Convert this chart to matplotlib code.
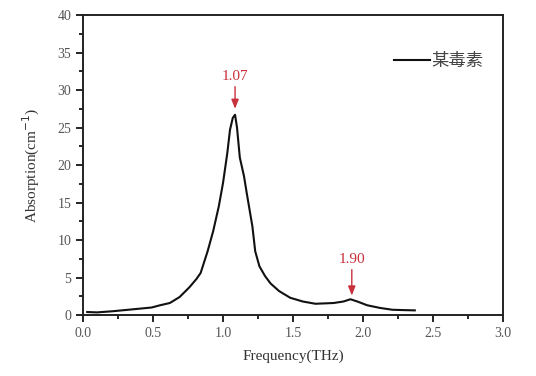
import matplotlib
matplotlib.use('Agg')
import matplotlib.pyplot as plt
from matplotlib.ticker import MultipleLocator

# 吸收谱数据
freq = [0.03, 0.10, 0.21, 0.35, 0.49, 0.55, 0.62, 0.69, 0.76, 0.81, 0.84, 0.89,
        0.93, 0.97, 1.00, 1.03, 1.05, 1.07, 1.086, 1.10, 1.12, 1.15, 1.17, 1.19,
        1.21, 1.23, 1.26, 1.30, 1.34, 1.40, 1.48, 1.57, 1.66, 1.79, 1.86, 1.91,
        1.96, 2.03, 2.12, 2.21, 2.30, 2.37]
absorb = [0.40, 0.35, 0.50, 0.75, 1.00, 1.30, 1.60, 2.40, 3.70, 4.80, 5.60, 8.50,
          11.2, 14.5, 17.6, 21.5, 24.7, 26.3, 26.7, 25.0, 21.0, 18.5, 16.2, 14.0,
          11.8, 8.5, 6.5, 5.2, 4.2, 3.2, 2.3, 1.8, 1.5, 1.6, 1.8, 2.1,
          1.8, 1.3, 0.95, 0.70, 0.65, 0.62]
peak_x = [1.086, 1.92]
peak_y = [27.5, 2.6]
peak_labels = ['1.07', '1.90']
series_name = '某毒素'

plt.rcParams['font.family'] = ['Liberation Serif', 'Noto Sans CJK SC']

fig = plt.figure(figsize=(5.36, 3.76), dpi=100)
ax = fig.add_axes([0.1549, 0.1622, 0.7835, 0.7979])

ax.plot(freq, absorb, color='#111111', lw=1.5, label=series_name)

# 峰位标注
red = '#c8303c'
offsets = [3.5, 4.0]
for px, py, lab, off in zip(peak_x, peak_y, peak_labels, offsets):
    ax.annotate(lab, xy=(px, py), xytext=(px, py + off), ha='center', va='bottom',
                color=red, fontsize=11,
                arrowprops=dict(arrowstyle='-|>,head_length=0.5,head_width=0.2',
                                color=red, lw=1, shrinkA=1, shrinkB=0))

ax.set_xlim(0, 3.0)
ax.set_ylim(0, 40)
ax.xaxis.set_major_locator(MultipleLocator(0.5))
ax.xaxis.set_minor_locator(MultipleLocator(0.25))
ax.yaxis.set_major_locator(MultipleLocator(5))
ax.yaxis.set_minor_locator(MultipleLocator(2.5))
ax.xaxis.set_major_formatter(matplotlib.ticker.FormatStrFormatter('%.1f'))

ax.tick_params(which='both', direction='out', top=False, right=False,
               labelsize=10, labelcolor='#555555', width=1.2)
ax.tick_params(which='major', length=5)
ax.tick_params(which='minor', length=3)
for sp in ax.spines.values():
    sp.set_linewidth(1.4)
    sp.set_color('#222222')

ax.set_xlabel('Frequency(THz)', fontsize=11, color='#333333', labelpad=7)
ax.set_ylabel('Absorption(cm$^{-1}$)', fontsize=11, color='#333333', labelpad=11)

leg = ax.legend(loc='upper right', bbox_to_anchor=(0.97, 0.90), frameon=False,
                handlelength=2.1, handletextpad=0.05, borderaxespad=0,
                prop={'family': ['Noto Sans CJK SC'], 'size': 12.5})
for t in leg.get_texts():
    t.set_color('#444444')

fig.savefig('out.png', dpi=100)
